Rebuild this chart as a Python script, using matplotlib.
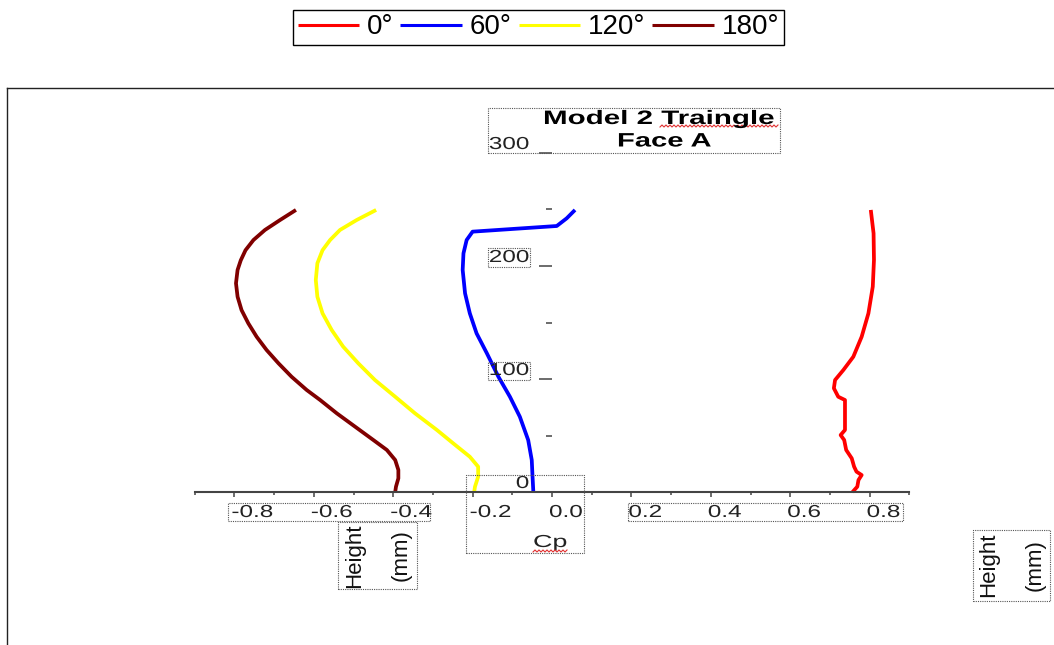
import numpy as np
import matplotlib
matplotlib.use('Agg')
import matplotlib.pyplot as plt
from matplotlib.patches import Rectangle
from matplotlib.lines import Line2D
from matplotlib.patheffects import AbstractPathEffect
from matplotlib.transforms import Affine2D, offset_copy

# ---------------- data ----------------
series_labels = ['0°', '60°', '120°', '180°']
series_colors = ['#FF0000', '#0000FF', '#FFFF00', '#800000']

h_0 = [0, 4.7, 10.6, 15, 18, 22.4, 29.8, 37.2, 46, 50.4, 54.9, 81.4, 84.3, 91.8, 99.1, 108,
       119.7, 137.4, 158.1, 181.7, 205.3, 228.9, 249.6]
cp_0 = [0.757, 0.769, 0.772, 0.780, 0.767, 0.761, 0.755, 0.741, 0.736, 0.727, 0.738, 0.738,
        0.721, 0.710, 0.713, 0.734, 0.759, 0.780, 0.797, 0.808, 0.811, 0.810, 0.803]

h_60 = [0, 13.5, 28.3, 46, 66.6, 84.3, 102, 122.7, 140.4, 158.1, 175.8, 196.5, 211.2, 223,
        230.4, 235.4, 242.2, 249.6]
cp_60 = [-0.047, -0.049, -0.051, -0.060, -0.081, -0.106, -0.135, -0.164, -0.190, -0.207,
         -0.219, -0.225, -0.223, -0.215, -0.200, 0.012, 0.037, 0.058]

h_120 = [0, 4.7, 13.5, 22.4, 31.2, 43.1, 54.9, 69.6, 84.3, 99.1, 113.9, 128.6, 143.4, 158.1,
         172.8, 187.6, 202.4, 214, 223, 231.9, 240.7, 249.6]
cp_120 = [-0.196, -0.194, -0.186, -0.186, -0.207, -0.249, -0.290, -0.345, -0.395, -0.446,
          -0.488, -0.526, -0.555, -0.578, -0.591, -0.595, -0.591, -0.578, -0.559, -0.534,
          -0.492, -0.443]

h_180 = [0, 4.7, 12.1, 19.5, 28.3, 37.2, 46, 57.8, 69.6, 81.4, 90.3, 102, 113.9, 125.7, 137.4,
         149.3, 161, 172.8, 184.7, 196.5, 205, 214, 223, 231.9, 240.7, 249.6]
cp_180 = [-0.395, -0.393, -0.387, -0.387, -0.395, -0.416, -0.450, -0.496, -0.542, -0.584,
          -0.618, -0.656, -0.689, -0.719, -0.744, -0.765, -0.782, -0.792, -0.796, -0.792,
          -0.784, -0.772, -0.752, -0.723, -0.685, -0.645]

x_ticks = [-0.8, -0.6, -0.4, -0.2, 0.0, 0.2, 0.4, 0.6, 0.8]
x_ticklabels = ['-0.8', '-0.6', '-0.4', '-0.2', '0.0', '0.2', '0.4', '0.6', '0.8']
x_minor = [-0.9, -0.7, -0.5, -0.3, -0.1, 0.1, 0.3, 0.5, 0.7, 0.9]
y_ticks = [0, 100, 200, 300]
y_ticklabels = ['0', '100', '200', '300']
y_minor = [50, 150, 250]
title_lines = ['Model 2 Traingle', 'Face A']
x_label = 'Cp'
y_label = 'Height\n(mm)'

# ---------------- helpers ----------------
W, H = 1054, 645


class Stretch(AbstractPathEffect):
    """Horizontally widen glyphs (the reference text is rendered wide)."""
    def __init__(self, sx, anchor='left'):
        super().__init__()
        self.sx = sx
        self.anchor = anchor

    def draw_path(self, renderer, gc, tpath, affine, rgbFace=None):
        ext = tpath.get_extents()
        if self.anchor == 'right':
            p = ext.x1
        elif self.anchor == 'center':
            p = 0.5 * (ext.x0 + ext.x1)
        else:
            p = 0.0
        t = Affine2D().translate(-p, 0).scale(self.sx, 1).translate(p, 0) + affine
        renderer.draw_path(gc, tpath, t, rgbFace)


def fx(x):
    return x / W


def fy(y):
    return 1 - y / H


plt.rcParams['font.family'] = ['Liberation Sans', 'DejaVu Sans']
fig = plt.figure(figsize=(W / 100, H / 100), dpi=100)

X0, X1 = 194.7, 909.3
Y0, Y1 = 492.0, 153.0
ax = fig.add_axes([fx(X0), fy(Y0), (X1 - X0) / W, (Y0 - Y1) / H])
ax.set_xlim(-0.9, 0.9)
ax.set_ylim(0, 300)
ax.patch.set_alpha(0)
for s in ['top', 'right']:
    ax.spines[s].set_visible(False)
ax.spines['left'].set_position(('data', 0))
ax.spines['left'].set_visible(False)
ax.spines['bottom'].set_color('#444444')
ax.spines['bottom'].set_linewidth(1.5)

ax.set_xticks(x_ticks)
ax.set_xticks(x_minor, minor=True)
ax.set_yticks(y_ticks)
ax.set_yticks(y_minor, minor=True)
ax.tick_params(axis='x', which='major', direction='out', length=3.8, width=1.1,
               color='#444444', labelbottom=False)
ax.tick_params(axis='x', which='minor', direction='out', length=2.2, width=1.1,
               color='#444444')
ax.tick_params(axis='y', which='major', direction='out', length=9.4, width=1.1,
               color='#444444', labelleft=False)
ax.tick_params(axis='y', which='minor', direction='out', length=4.3, width=1.1,
               color='#444444')

# curves
series = [(cp_0, h_0), (cp_60, h_60), (cp_120, h_120), (cp_180, h_180)]
handles = []
for (cp, h), lab, col in zip(series, series_labels, series_colors):
    ln, = ax.plot(cp, h, color=col, lw=2.7, label=lab, clip_on=False,
                  solid_capstyle='butt', solid_joinstyle='round')
    handles.append(ln)

# tick labels (drawn wide like the reference)
for v, lab in zip(x_ticks, x_ticklabels):
    ax.text(v, 0, lab, transform=offset_copy(ax.transData, fig, x=-3, y=-25, units='dots'),
            ha='left', va='baseline', fontsize=12.5, color='#222222',
            path_effects=[Stretch(1.4, 'left')])
for v, lab in zip(y_ticks, y_ticklabels):
    ax.text(0, v, lab, transform=offset_copy(ax.transData, fig, x=-23, y=4, units='dots'),
            ha='right', va='baseline', fontsize=12.5, color='#222222',
            path_effects=[Stretch(1.4, 'right')])

# axis labels
ax.set_xlabel(x_label, fontsize=12.5, ha='left', va='baseline', color='#222222',
              path_effects=[Stretch(1.55, 'left')])
ax.xaxis.set_label_coords((533 - X0) / (X1 - X0), (Y0 - 547) / (Y0 - Y1))
ax.set_ylabel(y_label, fontsize=16, rotation=90, ha='center', va='center',
              multialignment='center', linespacing=2.6, color='#111111',
              rotation_mode='default')
ax.yaxis.set_label_coords((377.5 - X0) / (X1 - X0), (Y0 - 555.5) / (Y0 - Y1))
fig.text(fx(1011.5), fy(565), y_label, fontsize=16, rotation=90, ha='center', va='center',
         multialignment='center', linespacing=2.6, color='#111111')

# title
fig.text(fx(543), fy(124), title_lines[0], fontsize=14, fontweight='bold', ha='left',
         va='baseline', path_effects=[Stretch(1.52, 'left')])
fig.text(fx(617), fy(146.5), title_lines[1], fontsize=14, fontweight='bold', ha='left',
         va='baseline', path_effects=[Stretch(1.5, 'left')])

# spell-check squiggles (decoration)
def squiggle(x0, x1, y):
    xs = np.arange(x0, x1 + 0.1, 2.0)
    ys = y + np.where(np.arange(len(xs)) % 2 == 0, 1.0, -1.0)
    fig.add_artist(Line2D(fx(xs), fy(ys), transform=fig.transFigure, color='#E03030', lw=0.8))

squiggle(660, 778, 126)
squiggle(533, 568, 551)

# dotted text boxes
boxes = [(488, 108, 780, 153), (488, 362, 530, 380), (488, 248, 530, 267),
         (466, 475, 584, 553), (228, 503, 430, 521), (628, 503, 903, 521),
         (338, 522, 417, 589), (973, 530, 1050, 601)]
for (x0, y0, x1, y1) in boxes:
    fig.add_artist(Rectangle((fx(x0), fy(y1)), (x1 - x0) / W, (y1 - y0) / H,
                             transform=fig.transFigure, fill=False, ec='#555555',
                             lw=0.8, ls=(0, (1, 1))))

# outer frame fragments
fig.add_artist(Line2D([fx(7), 1], [fy(88), fy(88)], transform=fig.transFigure,
                      color='#222222', lw=1))
fig.add_artist(Line2D([fx(7), fx(7)], [fy(88), 0], transform=fig.transFigure,
                      color='#222222', lw=1))

# legend
leg = fig.legend(handles=handles, labels=series_labels, loc='center',
                 bbox_to_anchor=(fx(538.5), fy(27.5)), ncol=4, fontsize=20,
                 frameon=True, fancybox=False, edgecolor='black', framealpha=1,
                 handlelength=2.2, handletextpad=0.3, columnspacing=0.25,
                 borderpad=0.15, borderaxespad=0)
leg.get_frame().set_linewidth(1.0)
for lh in leg.get_lines():
    lh.set_linewidth(2.2)

fig.savefig('out.png', dpi=100)
